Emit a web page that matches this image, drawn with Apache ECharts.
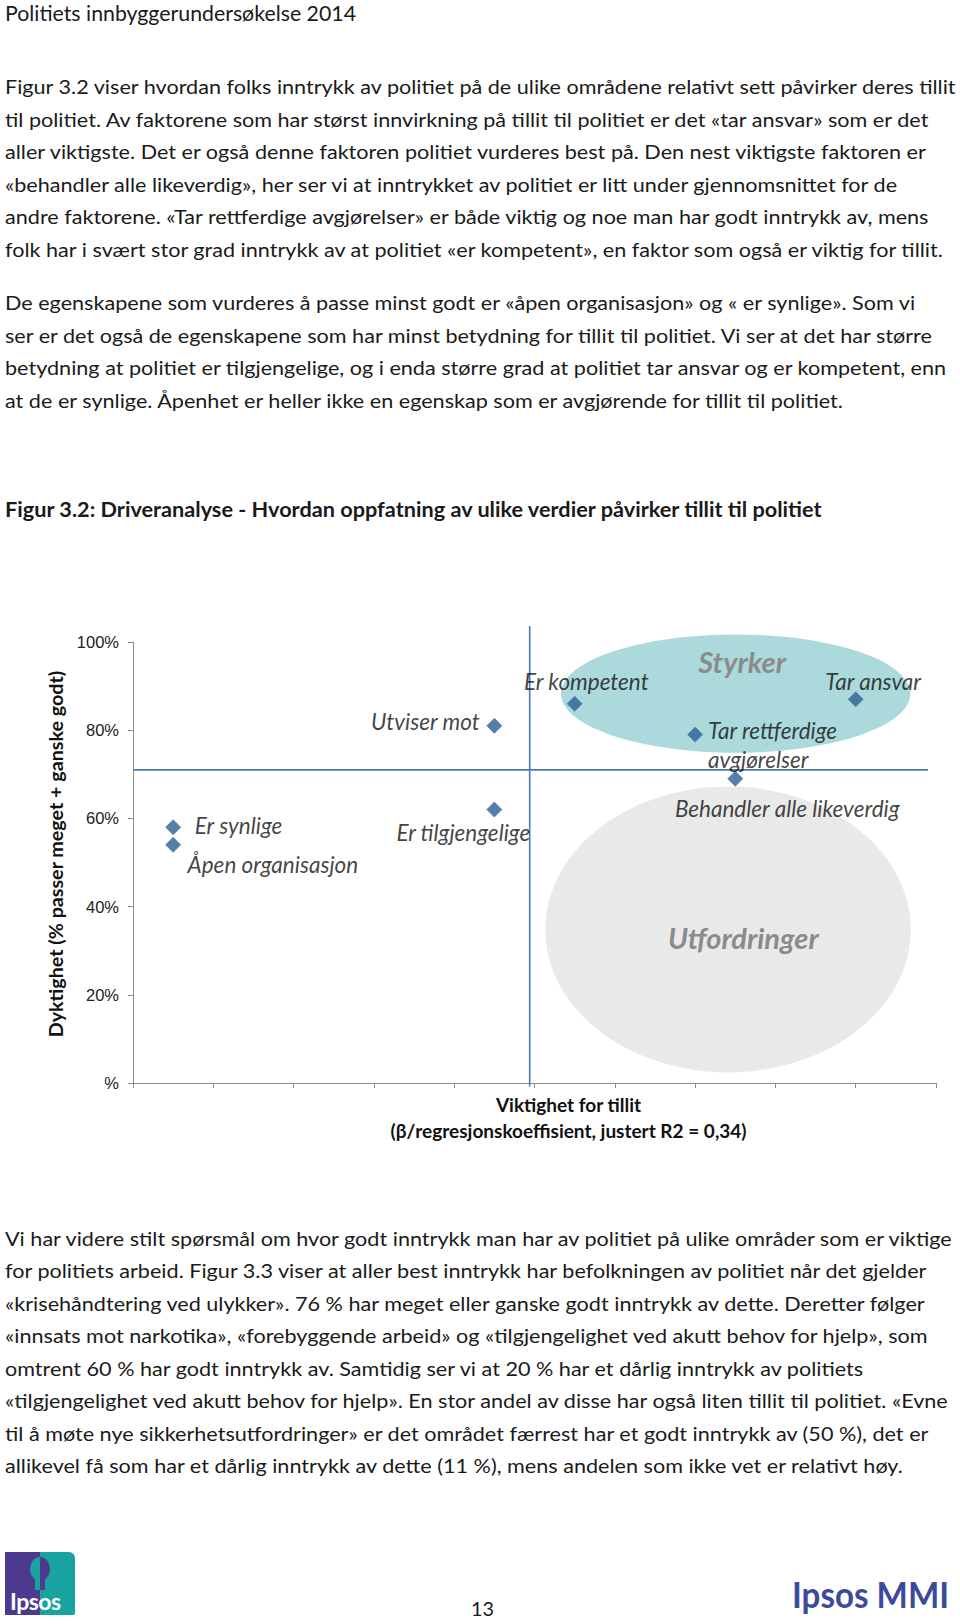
<!DOCTYPE html>
<html><head><meta charset="utf-8">
<script src="https://cdn.jsdelivr.net/npm/echarts@6/dist/echarts.min.js"></script>
<style>
html,body{margin:0;padding:0;background:#fff;}
#page{position:relative;width:960px;height:1624px;overflow:hidden;background:#fff;}
#chart{position:absolute;left:0;top:0;width:960px;height:1624px;}
.ln{position:absolute;white-space:nowrap;font-family:Lato,"Open Sans",sans-serif;color:#1a1a1a;transform-origin:0 50%;line-height:28px;height:28px;}
#logo{position:absolute;left:5px;top:1552px;width:70px;height:63px;overflow:hidden;border-radius:0 6px 2px 0;}
</style></head>
<body><div id="page"><div id="chart"></div></div>
<script>
// ---------- data ----------
const categories = ['Er synlige','Åpen organisasjon','Utviser mot','Er tilgjengelige','Er kompetent','Tar ansvar','Tar rettferdige\navgjørelser','Behandler alle likeverdig'];
const importance = [0.010, 0.010, 0.090, 0.090, 0.110, 0.180, 0.140, 0.150];   // beta (x)
const competence = [58, 54, 81, 62, 86, 87, 79, 69];                         // % (y)
const avgImportance = 0.0988;
const avgCompetence = 71;
const yTicks = [0, 20, 40, 60, 80, 100];
const zoneNames = ['Styrker', 'Utfordringer'];
const zoneCenterX = [0.1501, 0.1482];
const zoneCenterY = [88.3, 34.8];
const zoneRadiusX = [0.0435, 0.0455];
const zoneRadiusY = [13.4, 32.4];
const zoneLabelX = [0.1517, 0.152];
const zoneLabelY = [95.6, 33.0];

const headerText = 'Politiets innbyggerundersøkelse 2014';
const para1 = [
 'Figur 3.2 viser hvordan folks inntrykk av politiet på de ulike områdene relativt sett påvirker deres tillit',
 'til politiet. Av faktorene som har størst innvirkning på tillit til politiet er det «tar ansvar» som er det',
 'aller viktigste. Det er også denne faktoren politiet vurderes best på. Den nest viktigste faktoren er',
 '«behandler alle likeverdig», her ser vi at inntrykket av politiet er litt under gjennomsnittet for de',
 'andre faktorene. «Tar rettferdige avgjørelser» er både viktig og noe man har godt inntrykk av, mens',
 'folk har i svært stor grad inntrykk av at politiet «er kompetent», en faktor som også er viktig for tillit.'
];
const para2 = [
 'De egenskapene som vurderes å passe minst godt er «åpen organisasjon» og « er synlige».  Som vi',
 'ser er det også de egenskapene som har minst betydning for tillit til politiet. Vi ser at det har større',
 'betydning at politiet er tilgjengelige, og i enda større grad at politiet tar ansvar og er kompetent, enn',
 'at de er synlige. Åpenhet er heller ikke en egenskap som er avgjørende for tillit til politiet.'
];
const figTitle = 'Figur 3.2: Driveranalyse - Hvordan oppfatning av ulike verdier påvirker tillit til politiet';
const para3 = [
 'Vi har videre stilt spørsmål om hvor godt inntrykk man har av politiet på ulike områder som er viktige',
 'for politiets arbeid. Figur 3.3 viser at aller best inntrykk har befolkningen av politiet når det gjelder',
 '«krisehåndtering ved ulykker». 76 % har meget eller ganske godt inntrykk av dette. Deretter følger',
 '«innsats mot narkotika», «forebyggende arbeid» og «tilgjengelighet ved akutt behov for hjelp», som',
 'omtrent 60 % har godt inntrykk av. Samtidig ser vi at 20 % har et dårlig inntrykk av politiets',
 '«tilgjengelighet ved akutt behov for hjelp». En stor andel av disse har også liten tillit til politiet. «Evne',
 'til å møte nye sikkerhetsutfordringer» er det området færrest har et godt inntrykk av (50 %), det er',
 'allikevel få som har et dårlig inntrykk av dette (11 %), mens andelen som ikke vet er relativt høy.'
];
const pageNumber = '13';

// ---------- page text ----------
const page = document.getElementById('page');
const cvs = document.createElement('canvas').getContext('2d');
function measure(txt, font){ cvs.font = font; return cvs.measureText(txt).width; }
function addLine(txt, x, cy, size, weight, scale, color){
  const d = document.createElement('div');
  d.className = 'ln';
  d.textContent = txt;
  d.style.left = x + 'px';
  d.style.top = (cy - 14) + 'px';
  d.style.fontSize = size + 'px';
  d.style.fontWeight = weight;
  if (color) d.style.color = color;
  d.style.transform = 'scaleX(' + scale + ')';
  page.appendChild(d);
  return d;
}
const bodySize = 19.5;
const bodyFont = '400 ' + bodySize + 'px Lato';
const bodyScale = 953 / measure(para1[0], bodyFont);
para1.forEach((t, i) => addLine(t, 5, 87 + i * 32.5, bodySize, 400, bodyScale));
para2.forEach((t, i) => addLine(t, 5, 303.4 + i * 32.5, bodySize, 400, bodyScale));
para3.forEach((t, i) => addLine(t, 5, 1238.6 + i * 32.5, bodySize, 400, bodyScale));
addLine(headerText, 5, 12.5, 20.5, 400, 351 / measure(headerText, '400 20.5px Lato'));
addLine(figTitle, 5, 508.5, 20, 700, 819 / measure(figTitle, '700 20px Lato'));
addLine(pageNumber, 471, 1608, 20, 400, 23 / measure(pageNumber, '400 20px Lato'));
const mmi = addLine('Ipsos MMI', 792, 1594, 36, 700, 157 / measure('Ipsos MMI', '700 36px Lato'), '#3a4b9b');
mmi.style.height = '44px'; mmi.style.lineHeight = '44px'; mmi.style.top = (1594 - 22) + 'px';

// Ipsos logo
const logo = document.createElement('div');
logo.id = 'logo';
logo.innerHTML =
 '<div style="position:absolute;left:0;top:0;width:35px;height:63px;background:#4b3a8e"></div>' +
 '<div style="position:absolute;left:35px;top:0;width:35px;height:63px;background:#19a3a0"></div>' +
 '<div style="position:absolute;left:25px;top:5px;width:20px;height:24px;border-radius:50%;background:linear-gradient(90deg,#19a3a0 50%,#4b3a8e 50%)"></div>' +
 '<div style="position:absolute;left:30px;top:27px;width:10px;height:11px;background:linear-gradient(90deg,#19a3a0 50%,#4b3a8e 50%)"></div>' +
 '<div style="position:absolute;left:5px;top:35px;color:#fff;font:700 23px Lato,sans-serif;letter-spacing:-0.5px">Ipsos</div>';
page.appendChild(logo);

// ---------- chart ----------
const labelLayout = [
  {align:'left',   offset:[21.7, -2]},
  {align:'center', offset:[99.7, 19.7]},
  {align:'right',  offset:[-14.7, -4.3]},
  {align:'center', offset:[-31, 22.7]},
  {align:'center', offset:[11.7, -22]},
  {align:'center', offset:[17.5, -17.6]},
  {align:'left',   offset:[13, 10.3]},
  {align:'center', offset:[52, 30]}
];
const scatterData = categories.map((c, i) => ({
  name: c,
  value: [importance[i], competence[i]],
  label: {align: labelLayout[i].align, offset: labelLayout[i].offset}
}));
const zoneData = zoneNames.map((n, i) => [zoneCenterX[i], zoneCenterY[i], zoneRadiusX[i], zoneRadiusY[i], zoneLabelX[i], zoneLabelY[i], n]);
const zoneColors = ['#acd9dc', '#e9e9e9'];

const chart = echarts.init(document.getElementById('chart'), null, {renderer: 'svg'});
chart.setOption({
  animation: false,
  backgroundColor: 'transparent',
  grid: {left: 133, top: 642, width: 803, height: 441, containLabel: false},
  xAxis: {
    type: 'value', min: 0, max: 0.2, interval: 0.02,
    splitLine: {show: false},
    axisLine: {show: true, lineStyle: {color: '#8c8c8c', width: 1}},
    axisTick: {show: true, length: 5, lineStyle: {color: '#8c8c8c'}},
    axisLabel: {show: false},
    name: 'Viktighet for tillit\n(β/regresjonskoeffisient, justert R2 = 0,34)',
    nameLocation: 'middle', nameGap: 8,
    nameTextStyle: {fontFamily: 'Lato', fontWeight: 'bold', fontSize: 19, color: '#111', lineHeight: 26, verticalAlign: 'top', padding: [0, 0, 0, 68]}
  },
  yAxis: {
    type: 'value', min: 0, max: 100, interval: 20,
    splitLine: {show: false},
    axisLine: {show: true, lineStyle: {color: '#8c8c8c', width: 1}},
    axisTick: {show: true, length: 5, lineStyle: {color: '#8c8c8c'}},
    axisLabel: {fontFamily: 'Liberation Sans', fontSize: 16.5, color: '#222', margin: 14,
      formatter: v => (v === 0 ? '%' : v + '%')},
    name: 'Dyktighet (% passer meget + ganske godt)',
    nameLocation: 'middle', nameGap: 59, nameRotate: 90,
    nameTextStyle: {fontFamily: 'Lato', fontWeight: 'bold', fontSize: 19.7, color: '#111', padding: [0, 0, 0, 17]}
  },
  series: [
    {
      type: 'custom', z: 1, silent: true, clip: false,
      data: zoneData,
      renderItem: function (params, api) {
        const c = api.coord([api.value(0), api.value(1)]);
        const s = api.size([api.value(2), api.value(3)]);
        const t = api.coord([api.value(4), api.value(5)]);
        return {
          type: 'group',
          children: [
            {type: 'circle', x: c[0], y: c[1], scaleX: s[0] / s[1], scaleY: 1,
             shape: {cx: 0, cy: 0, r: s[1]}, style: {fill: zoneColors[params.dataIndex]}},
            {type: 'text', x: t[0], y: t[1],
             style: {text: zoneNames[params.dataIndex], align: 'center', verticalAlign: 'middle',
               font: 'italic bold 29px Lato', fill: '#8b8b8b'}}
          ]
        };
      }
    },
    {
      type: 'custom', z: 2, silent: true, clip: false,
      data: [[avgImportance, avgCompetence]],
      renderItem: function (params, api) {
        const x = api.value(0), y = api.value(1);
        const v1 = api.coord([x, 103.6]), v2 = api.coord([x, -0.8]);
        const h1 = api.coord([0, y]), h2 = api.coord([0.198, y]);
        const ls = {stroke: '#4a7ab8', lineWidth: 1.6};
        return {type: 'group', children: [
          {type: 'line', shape: {x1: v1[0], y1: v1[1], x2: v2[0], y2: v2[1]}, style: ls},
          {type: 'line', shape: {x1: h1[0], y1: h1[1], x2: h2[0], y2: h2[1]}, style: ls}
        ]};
      }
    },
    {
      type: 'scatter', z: 3,
      symbol: 'diamond', symbolSize: [15, 15],
      itemStyle: {color: '#2d5d94', borderColor: '#4f7fb5', borderWidth: 1},
      data: scatterData,
      label: {show: true, position: 'inside', formatter: '{b}', verticalAlign: 'middle',
        fontFamily: 'Lato', fontStyle: 'italic', fontSize: 22.5, color: '#111', lineHeight: 28.6}
    }
  ]
});
</script></body></html>
